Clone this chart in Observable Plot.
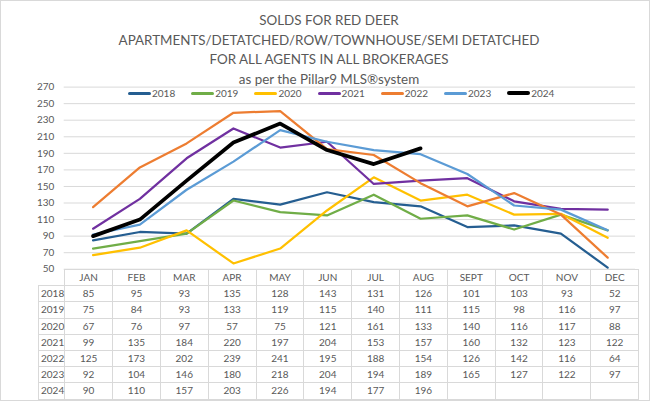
<!DOCTYPE html>
<html>
<head>
<meta charset="utf-8">
<script src="https://cdn.jsdelivr.net/npm/d3@7"></script>
<script src="https://cdn.jsdelivr.net/npm/@observablehq/plot@0.6"></script>
<style>
  html, body { margin: 0; padding: 0; background: #fff; }
  #wrap { position: relative; width: 650px; height: 401px; box-sizing: border-box; border: 1px solid #d9d9d9; overflow: hidden; font-family: Lato, "Open Sans", sans-serif; color: #595959; }
  #chart { position: absolute; left: -1px; top: -1px; }
  .tl { position: absolute; left: 0; width: 656px; text-align: center; font-size: 13.4px; line-height: 19px; white-space: nowrap; }
  #legend { position: absolute; top: 85px; left: 127px; display: flex; gap: 16px; font-size: 10px; line-height: 14px; }
  .li { display: flex; align-items: center; }
  .sw { width: 23px; height: 3px; margin-right: 1px; }
  table { position: absolute; left: 37px; top: 268px; border-collapse: collapse; table-layout: fixed; font-size: 10px; }
  td { border: 1px solid #d9d9d9; text-align: center; padding: 0; height: 15.2px; line-height: 15px; color: #595959; }
  td.rl { text-align: left; padding-left: 2px; }
  td.blank { border: none; border-right: 1px solid #d9d9d9; }
</style>
</head>
<body>
<div id="wrap">
  <div id="chart"></div>
  <div class="tl" style="top:10px">SOLDS FOR RED DEER</div>
  <div class="tl" style="top:29.5px">APARTMENTS/DETATCHED/ROW/TOWNHOUSE/SEMI DETATCHED</div>
  <div class="tl" style="top:49px">FOR ALL AGENTS IN ALL BROKERAGES</div>
  <div class="tl" style="top:68.5px">as per the Pillar9 MLS®system</div>
  <div id="legend"></div>
  <table id="tbl"></table>
</div>
<script>
const months = ["JAN","FEB","MAR","APR","MAY","JUN","JUL","AUG","SEPT","OCT","NOV","DEC"];
const years = ["2018","2019","2020","2021","2022","2023","2024"];
const sold2018 = [85, 95, 93, 135, 128, 143, 131, 126, 101, 103, 93, 52];
const sold2019 = [75, 84, 93, 133, 119, 115, 140, 111, 115, 98, 116, 97];
const sold2020 = [67, 76, 97, 57, 75, 121, 161, 133, 140, 116, 117, 88];
const sold2021 = [99, 135, 184, 220, 197, 204, 153, 157, 160, 132, 123, 122];
const sold2022 = [125, 173, 202, 239, 241, 195, 188, 154, 126, 142, 116, 64];
const sold2023 = [92, 104, 146, 180, 218, 204, 194, 189, 165, 127, 122, 97];
const sold2024 = [90, 110, 157, 203, 226, 194, 177, 196];
const yTicks = [50, 70, 90, 110, 130, 150, 170, 190, 210, 230, 250, 270];
const colors = ["#255E91", "#70AD47", "#FFC000", "#7030A0", "#ED7D31", "#5B9BD5", "#000000"];

const series = [sold2018, sold2019, sold2020, sold2021, sold2022, sold2023, sold2024];
const rows = [];
series.forEach((vals, i) => vals.forEach((v, j) => rows.push({year: years[i], month: months[j], value: v})));

const chart = Plot.plot({
  width: 652,
  height: 271,
  marginLeft: 64,
  marginRight: 14,
  marginTop: 87,
  marginBottom: 1,
  x: {type: "point", domain: months, padding: 0.5, axis: null},
  y: {domain: [50, 270], axis: null},
  color: {domain: years, range: colors},
  style: {fontFamily: "Lato, sans-serif", overflow: "visible"},
  marks: [
    Plot.ruleY(yTicks, {stroke: "#d9d9d9", strokeWidth: 1}),
    Plot.axisY(yTicks, {tickSize: 0, tickPadding: 10, fontSize: 10, fill: "#595959", label: null}),
    ...years.map((yr, i) => Plot.line(rows.filter(d => d.year === yr), {
      x: "month", y: "value", stroke: colors[i],
      strokeWidth: yr === "2024" ? 3.75 : 2.25,
      strokeLinejoin: "round", strokeLinecap: "round"
    }))
  ]
});
document.getElementById("chart").appendChild(chart);

// legend
const leg = document.getElementById("legend");
years.forEach((yr, i) => {
  const it = document.createElement("div");
  it.className = "li";
  it.innerHTML = `<span class="sw" style="background:${colors[i]};height:${yr === "2024" ? 4.5 : 3}px;border-radius:2px"></span><span>${yr}</span>`;
  leg.appendChild(it);
});

// data table
const tbl = document.getElementById("tbl");
const colg = document.createElement("colgroup");
colg.innerHTML = `<col style="width:26px">` + months.map(() => `<col style="width:47.83px">`).join("");
tbl.appendChild(colg);
const hr = document.createElement("tr");
hr.innerHTML = `<td class="blank"></td>` + months.map(m => `<td>${m}</td>`).join("");
tbl.appendChild(hr);
years.forEach((yr, i) => {
  const tr = document.createElement("tr");
  tr.innerHTML = `<td class="rl">${yr}</td>` + months.map((m, j) => `<td>${series[i][j] !== undefined ? series[i][j] : ""}</td>`).join("");
  tbl.appendChild(tr);
});
</script>
</body>
</html>
